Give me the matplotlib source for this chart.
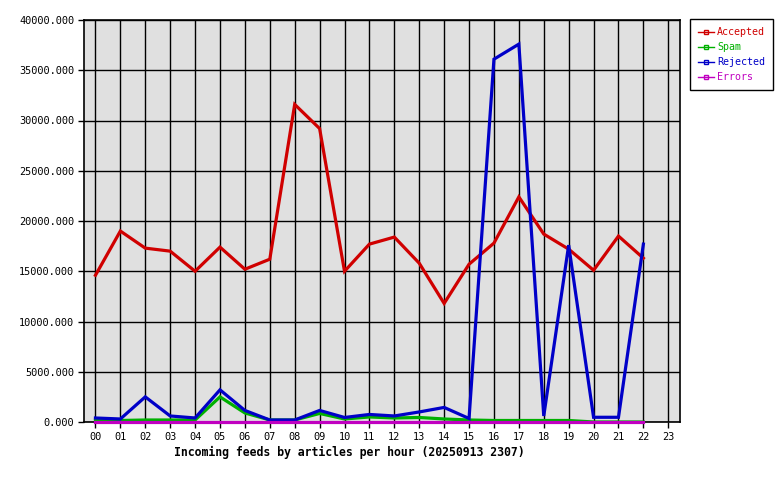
import matplotlib
matplotlib.use("Agg")
import matplotlib.pyplot as plt
from matplotlib.lines import Line2D
from matplotlib.ticker import FormatStrFormatter

# Hourly article counts
hours = ["00", "01", "02", "03", "04", "05", "06", "07", "08", "09", "10", "11",
         "12", "13", "14", "15", "16", "17", "18", "19", "20", "21", "22", "23"]
accepted = [14600, 19000, 17300, 17000, 15000, 17400, 15200, 16200, 31600, 29200,
            15000, 17700, 18400, 15800, 11800, 15700, 17800, 22400, 18700, 17200,
            15100, 18500, 16300]
spam = [150, 150, 200, 200, 200, 2500, 900, 200, 200, 850,
        300, 500, 400, 450, 300, 200, 150, 150, 150, 150,
        0, 0, 0]
rejected = [400, 300, 2500, 600, 400, 3200, 1150, 200, 200, 1150,
            450, 750, 600, 1000, 1450, 350, 36100, 37600, 600, 17600,
            470, 470, 17700]
errors = [0] * 23

series = [("Accepted", accepted, "#d00000"),
          ("Spam", spam, "#00b000"),
          ("Rejected", rejected, "#0000c8"),
          ("Errors", errors, "#c000c0")]

plt.rcParams["font.family"] = ["DejaVu Sans Mono"]

fig = plt.figure(figsize=(7.8, 4.8), dpi=100)
ax = fig.add_axes([84 / 780, 58 / 480, 596 / 780, 402 / 480])
ax.set_facecolor("#e0e0e0")

x = list(range(len(accepted)))
for name, vals, col in series:
    if name == "Errors":
        ax.plot(x, vals, color=col, lw=2.3, clip_on=False, zorder=3)
    else:
        ax.plot(x, vals, color=col, lw=2.3, solid_joinstyle="miter")

ax.set_xlim(-0.46, 23.47)
ax.set_ylim(0, 40000)
ax.set_xticks(range(len(hours)))
ax.set_xticklabels(hours)
ax.set_yticks(range(0, 40001, 5000))
ax.yaxis.set_major_formatter(FormatStrFormatter("%.3f"))
ax.grid(True, color="black", lw=1)
ax.set_axisbelow(True)
ax.tick_params(labelsize=7.4, length=4, width=1, color="black", pad=3)
for s in ax.spines.values():
    s.set_linewidth(1.2)

fig.text(349 / 780, 1 - 452 / 480,
         "Incoming feeds by articles per hour (20250913 2307)",
         ha="center", va="center", fontsize=8.3, fontweight="bold")

# Legend with small hollow square markers, as in the original
handles = [Line2D([0], [0], color=col, lw=1, marker="s", markersize=3,
                  markerfacecolor="none", markeredgecolor=col)
           for _, _, col in series]
leg = fig.legend(handles, [s[0] for s in series], loc="upper left",
                 bbox_to_anchor=(690 / 780, 1 - 19 / 480),
                 frameon=True, fancybox=False, edgecolor="black",
                 framealpha=1, fontsize=7.2, labelcolor="linecolor",
                 handlelength=1.6, handletextpad=0.3, borderpad=0.8,
                 labelspacing=0.5, borderaxespad=0)
leg.get_frame().set_linewidth(1)

fig.savefig("out.png", dpi=100)
